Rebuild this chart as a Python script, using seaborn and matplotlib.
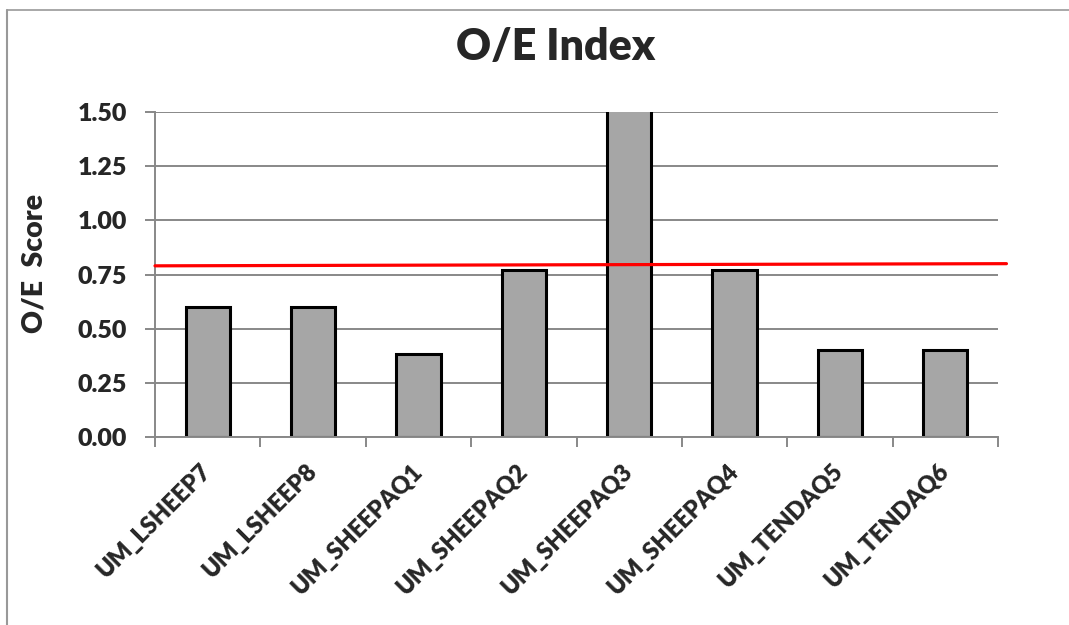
import matplotlib
matplotlib.use("Agg")
import matplotlib.pyplot as plt
from matplotlib.lines import Line2D
import seaborn as sns
import pandas as pd

# Sites and their O/E scores
sites = ["UM_LSHEEP7", "UM_LSHEEP8", "UM_SHEEPAQ1", "UM_SHEEPAQ2",
         "UM_SHEEPAQ3", "UM_SHEEPAQ4", "UM_TENDAQ5", "UM_TENDAQ6"]
oe_scores = [0.60, 0.60, 0.385, 0.77, 1.60, 0.77, 0.40, 0.40]

# Reference threshold line (start / end values)
threshold_x = [-0.5, 7.58]
threshold_y = [0.79, 0.80]

y_ticks = [0.00, 0.25, 0.50, 0.75, 1.00, 1.25, 1.50]

sns.set_theme(style="white")
plt.rcParams["font.family"] = ["Lato", "DejaVu Sans"]
plt.rcParams["font.weight"] = "bold"

df = pd.DataFrame({"site": sites, "score": oe_scores})

fig = plt.figure(figsize=(10.69, 6.25), dpi=100)
ax = fig.add_axes([0.145, 0.3008, 0.7886, 0.52])

grid_col = "#888888"
ax.set_axisbelow(True)
ax.yaxis.grid(True, color=grid_col, linewidth=1.4)

sns.barplot(data=df, x="site", y="score", ax=ax, width=0.42,
            color="#a6a6a6", saturation=1, edgecolor="black", linewidth=2.2)

ax.plot(threshold_x, threshold_y, color="red", linewidth=2.3,
        clip_on=False, zorder=5)

ax.set_xlim(-0.5, len(sites) - 0.5)
ax.set_ylim(0, 1.5)
ax.set_yticks(y_ticks)
ax.set_yticklabels([f"{v:.2f}" for v in y_ticks], fontsize=18, fontweight="heavy")

# Category labels at bar centres, tick marks at category boundaries
ax.set_xticks(range(len(sites)))
ax.set_xticklabels(sites, rotation=45, ha="right", va="center",
                   rotation_mode="anchor", fontsize=17, fontweight="heavy")
ax.tick_params(axis="x", which="major", length=0, pad=22)
ax.set_xticks([i - 0.5 for i in range(len(sites) + 1)], minor=True)
ax.tick_params(axis="x", which="minor", length=7, width=1.4, color=grid_col,
               direction="out", bottom=True)
ax.tick_params(axis="y", length=7, width=1.4, color=grid_col,
               direction="out", left=True, pad=13)

for s in ["top", "right"]:
    ax.spines[s].set_visible(False)
for s in ["left", "bottom"]:
    ax.spines[s].set_color(grid_col)
    ax.spines[s].set_linewidth(1.4)

ax.set_xlabel("")
ax.set_ylabel("O/E  Score", fontsize=20.5, fontweight="heavy")
ax.yaxis.set_label_coords(-0.128, 0.535)

fig.text(0.52, 0.925, "O/E Index", ha="center", va="center",
         fontsize=31, fontweight="heavy")

# Outer chart frame
fig.add_artist(Line2D([7 / 1069, 1.0], [1 - 9.5 / 625, 1 - 9.5 / 625],
                      transform=fig.transFigure, color="#999999", linewidth=1.2))
fig.add_artist(Line2D([7 / 1069, 7 / 1069], [0.0, 1 - 9.5 / 625],
                      transform=fig.transFigure, color="#999999", linewidth=1.5))

fig.savefig("out.png", dpi=100, facecolor="white")
